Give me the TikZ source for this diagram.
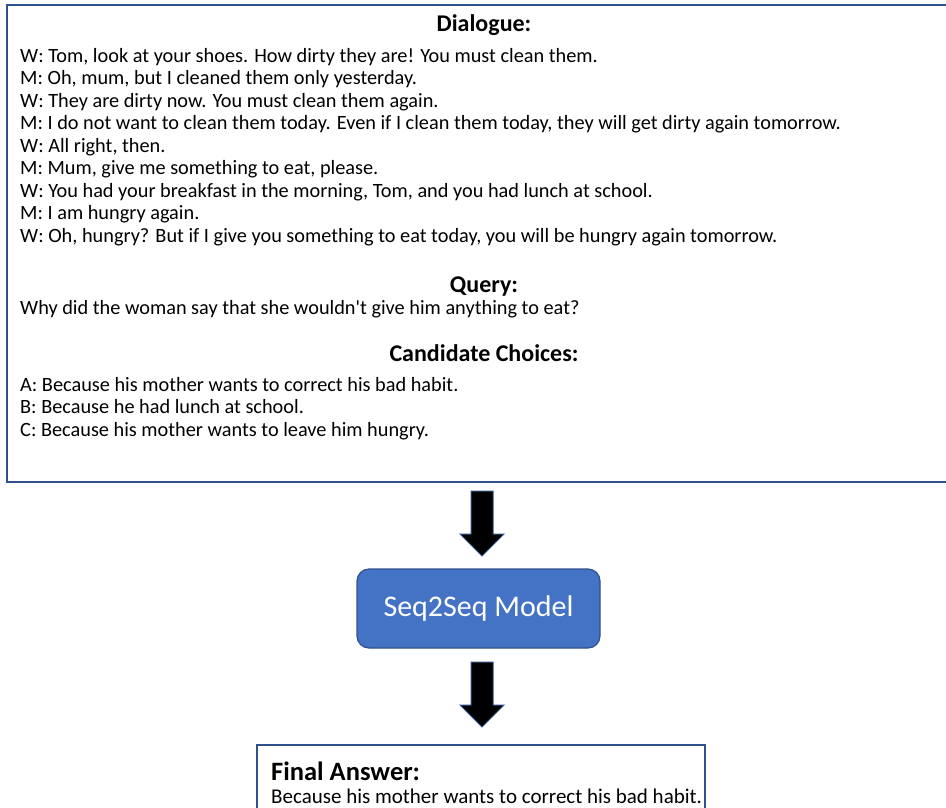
\documentclass[tikz,border=0pt]{standalone}
\usepackage{fontspec}
\setmainfont{Carlito}
\definecolor{edge}{HTML}{2F528F}
\definecolor{modelfill}{HTML}{4472C4}
\tikzset{
  frame/.style={draw=edge, line width=1.5pt},
  body/.style={anchor=base west, inner sep=0pt, font=\fontsize{20.3}{24}\selectfont},
  head/.style={anchor=base, inner sep=0pt, font=\fontsize{24}{28}\selectfont\bfseries},
  blockarrow/.style={draw=edge, line width=1pt, fill=black},
}
\begin{document}
\begin{tikzpicture}[x=1pt,y=-1pt]
\path[use as bounding box] (0,0) rectangle (946,807);
% top box
\draw[frame] (7,5) rectangle (952,482);
\node[head] (hd) at (484,31) {Dialogue:};
\node[body] (l1) at (20,62) {W: Tom, look at your shoes. How dirty they are! You must clean them.};
\node[body] (l2) at (20,84.5) {M: Oh, mum, but I cleaned them only yesterday.};
\node[body] (l3) at (20,107) {W: They are dirty now. You must clean them again.};
\node[body] (l4) at (20,129.5) {M: I do not want to clean them today. Even if I clean them today, they will get dirty again tomorrow.};
\node[body] (l5) at (20,152) {W: All right, then.};
\node[body] (l6) at (20,174.5) {M: Mum, give me something to eat, please.};
\node[body] (l7) at (20,197) {W: You had your breakfast in the morning, Tom, and you had lunch at school.};
\node[body] (l8) at (20,219.5) {M: I am hungry again.};
\node[body] (l9) at (20,242) {W: Oh, hungry? But if I give you something to eat today, you will be hungry again tomorrow.};
\node[head] (hq) at (484,292) {Query:};
\node[body] (q) at (20,314) {Why did the woman say that she wouldn\textquotesingle t give him anything to eat?};
\node[head] (hc) at (484,361) {Candidate Choices:};
\node[body] (ca) at (20,391) {A: Because his mother wants to correct his bad habit.};
\node[body] (cb) at (20,413.5) {B: Because he had lunch at school.};
\node[body] (cc) at (20,436) {C: Because his mother wants to leave him hungry.};
% model box
\node[draw=edge, line width=1.2pt, fill=modelfill, rounded corners=12pt, minimum width=243pt, minimum height=79pt, inner sep=0pt, text=white, font=\fontsize{30}{36}\selectfont] (model) at (478.5,608.5) {Seq2Seq Model};
% final box
\draw[frame] (257,745) rectangle (705,812);
\node[anchor=base west, inner sep=0pt, font=\fontsize{26.5}{30}\selectfont\bfseries] (fa) at (271,780) {Final Answer:};
\node[body, font=\fontsize{21}{24}\selectfont] (fb) at (271,803) {Because his mother wants to correct his bad habit.};
% block arrows
\coordinate (a1) at (482,491);
\coordinate (a2) at (482,662);
\foreach \c in {a1,a2}{
  \draw[blockarrow] (\c) ++(-11,0) -- ++(22,0) -- ++(0,43) -- ++(11,0) -- ++(-22,22) -- ++(-22,-22) -- ++(11,0) -- cycle;
}
\end{tikzpicture}
\end{document}
